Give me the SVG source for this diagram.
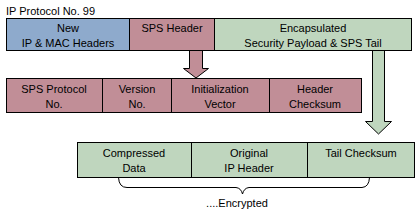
<svg xmlns="http://www.w3.org/2000/svg" width="420" height="215" viewBox="0 0 420 215">
<style>
text{font-family:"Liberation Sans",Arial,sans-serif;font-size:11px;fill:#000;text-anchor:middle}
.b{fill:#8eaacc;stroke:#000;stroke-width:1}
.p{fill:#c18e97;stroke:#000;stroke-width:1}
.g{fill:#bfd6be;stroke:#000;stroke-width:1}
.ln{fill:none;stroke:#000;stroke-width:1}
</style>
<rect width="420" height="215" fill="#fff"/>
<text x="6" y="15" style="text-anchor:start">IP Protocol No. 99</text>
<g id="connectors">
<polygon class="p" points="189.5,50.5 202.5,50.5 202.5,68.5 208.5,68.5 196,78 183.5,68.5 189.5,68.5"/>
<polygon class="g" points="372.5,50.5 384.5,50.5 384.5,121.5 391.5,121.5 378.5,134 365.5,121.5 372.5,121.5"/>
<path class="ln" d="M118.5,177.5 Q119,187.5 127,187.5 L236,187.5 Q241,188 242.5,194 Q244,188 249,187.5 L362,187.5 Q369,187 369.5,177.5"/>
</g>
<g id="new-headers"><rect class="b" x="6.5" y="18.5" width="123" height="32"/><text x="68" y="32">New</text><text x="68" y="47">IP &amp; MAC Headers</text></g>
<g id="sps-header"><rect class="p" x="129.5" y="18.5" width="85" height="32"/><text x="172" y="32">SPS Header</text></g>
<g id="esp"><rect class="g" x="214.5" y="18.5" width="197" height="32"/><text x="313" y="32">Encapsulated</text><text x="313" y="47">Security Payload &amp; SPS Tail</text></g>
<g id="sps-protocol"><rect class="p" x="6.5" y="78.5" width="96" height="34"/><text x="54" y="93">SPS Protocol</text><text x="54" y="108">No.</text></g>
<g id="version"><rect class="p" x="102.5" y="78.5" width="69" height="34"/><text x="137" y="93">Version</text><text x="137" y="108">No.</text></g>
<g id="init-vector"><rect class="p" x="171.5" y="78.5" width="98" height="34"/><text x="220" y="93">Initialization</text><text x="220" y="108">Vector</text></g>
<g id="header-checksum"><rect class="p" x="269.5" y="78.5" width="92" height="34"/><text x="315" y="93">Header</text><text x="315" y="108">Checksum</text></g>
<g id="compressed"><rect class="g" x="77.5" y="142.5" width="114" height="35"/><text x="134" y="157">Compressed</text><text x="134" y="172">Data</text></g>
<g id="orig-ip"><rect class="g" x="191.5" y="142.5" width="116" height="35"/><text x="249" y="157">Original</text><text x="249" y="172">IP Header</text></g>
<g id="tail-checksum"><rect class="g" x="307.5" y="142.5" width="107" height="35"/><text x="361" y="157">Tail Checksum</text></g>
<text x="237" y="207">....Encrypted</text>
</svg>
